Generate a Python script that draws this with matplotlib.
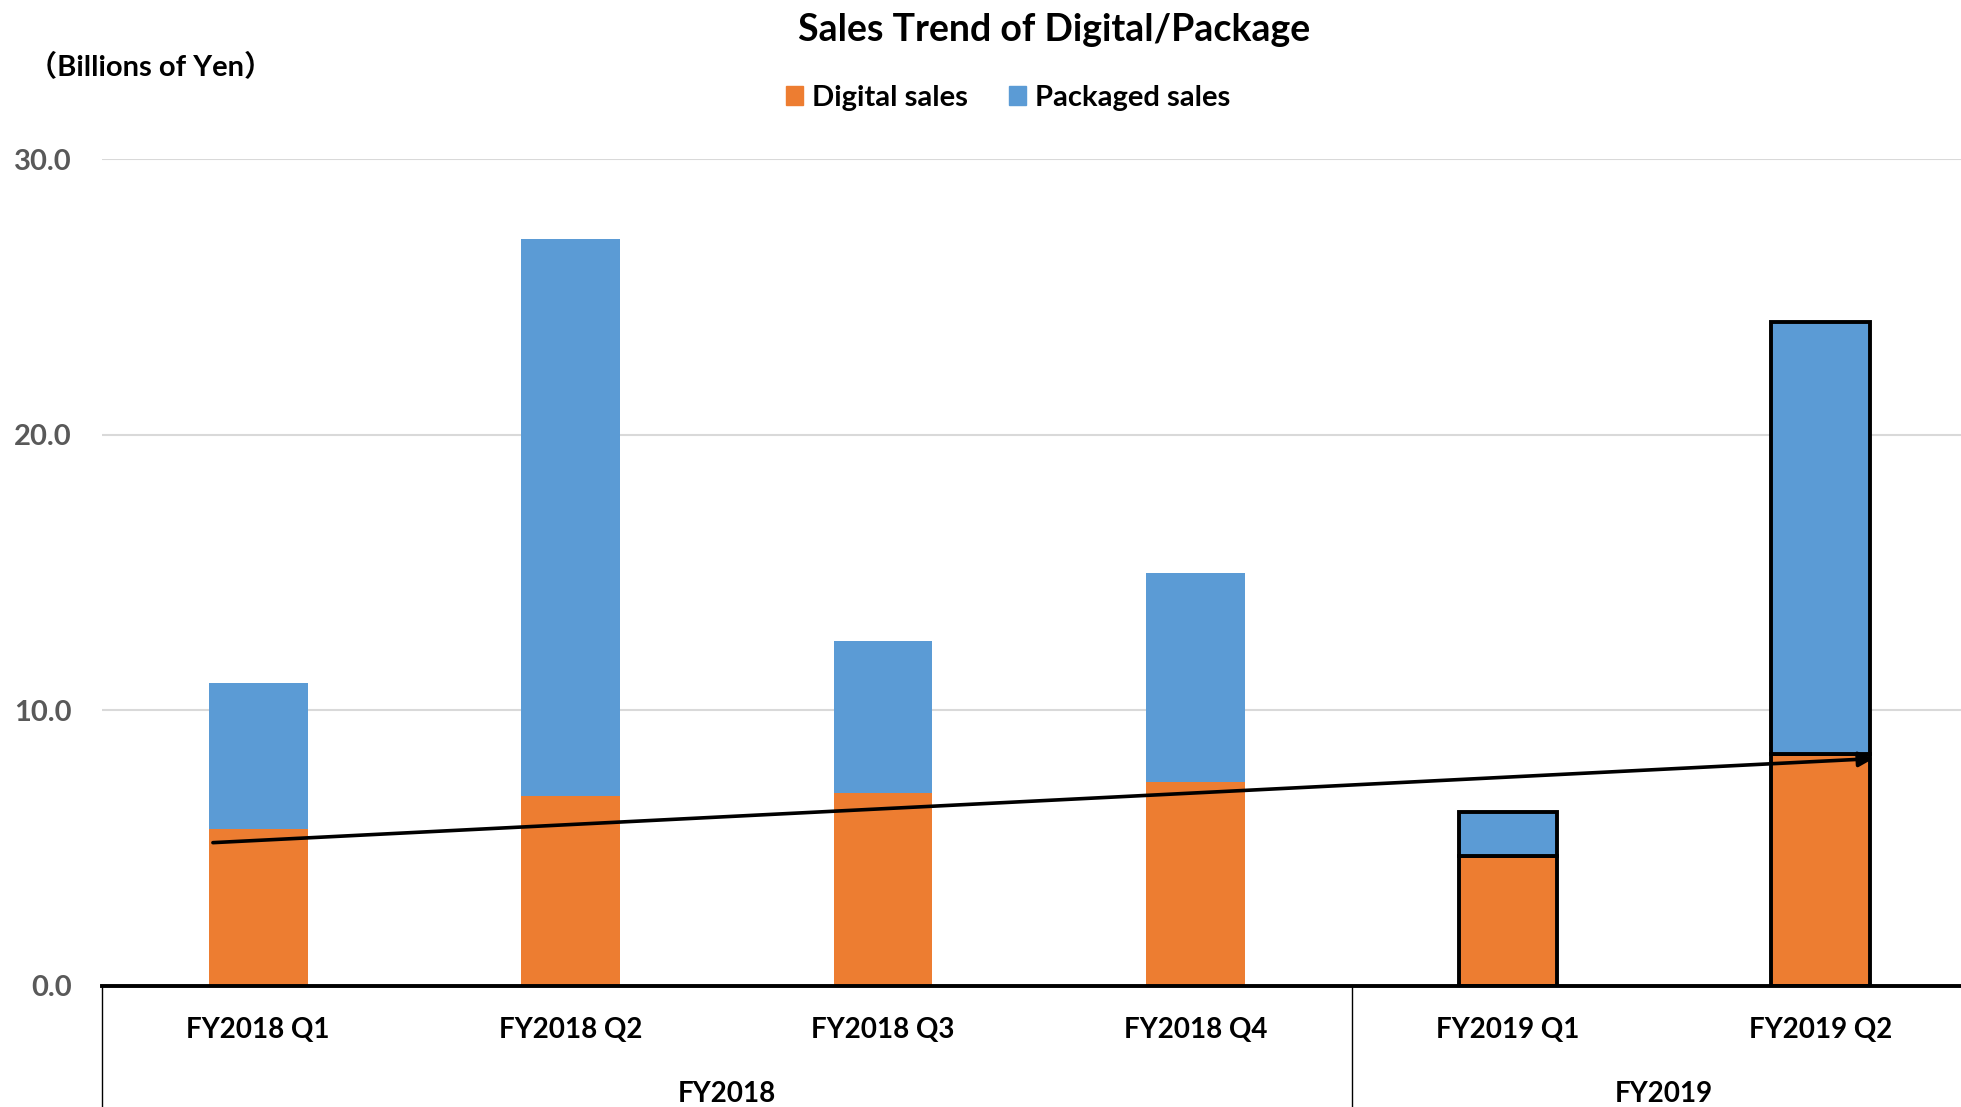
import matplotlib
matplotlib.use("Agg")
import matplotlib.pyplot as plt
import matplotlib.transforms as mtransforms
from matplotlib.patches import Patch

# values in billions of yen
quarters = ["FY2018 Q1", "FY2018 Q2", "FY2018 Q3", "FY2018 Q4", "FY2019 Q1", "FY2019 Q2"]
years = ["FY2018", "FY2019"]
year_sizes = [4, 2]
digital = [5.7, 6.9, 7.0, 7.4, 4.7, 8.4]
packaged = [5.3, 20.2, 5.5, 7.6, 1.6, 15.7]
trend_start = 5.2
trend_end = 8.25

ORANGE = "#ED7D31"
BLUE = "#5B9BD5"
FONT = ["Lato", "Noto Sans CJK JP", "DejaVu Sans"]
plt.rcParams["font.family"] = FONT

fig = plt.figure(figsize=(19.61, 11.07), dpi=100)
ax = fig.add_axes([102 / 1961, 121 / 1107, 1 - 102 / 1961, 827 / 1107])

x = list(range(len(quarters)))
width = 0.316
# FY2019 bars get a black outline
edges = ["none"] * 4 + ["black"] * 2
lws = [0] * 4 + [2.8] * 2
ax.bar(x, digital, width, color=ORANGE, edgecolor=edges, linewidth=lws, zorder=3)
ax.bar(x, packaged, width, bottom=digital, color=BLUE, edgecolor=edges, linewidth=lws, zorder=3)

# trend arrow on digital sales
ax.annotate("", xy=(5.17, trend_end), xytext=(-0.145, trend_start),
            arrowprops=dict(arrowstyle="-|>", color="black", lw=2.6,
                            mutation_scale=22, shrinkA=0, shrinkB=0),
            zorder=5)

ax.set_xlim(-0.5, 5.45)
ax.set_ylim(0, 30)
ax.set_yticks([0, 10, 20, 30])
ax.set_yticklabels([f"{v:.1f}" for v in [0, 10, 20, 30]],
                   fontsize=21, fontweight="bold", color="#595959")
ax.set_xticks(x)
ax.set_xticklabels(quarters, fontsize=20, fontweight="bold")
ax.tick_params(axis="both", length=0)
ax.tick_params(axis="x", pad=22)
ax.tick_params(axis="y", pad=22)
ax.grid(axis="y", color="#D9D9D9", linewidth=1.5, zorder=0)
ax.set_axisbelow(True)
for s in ["top", "left", "right"]:
    ax.spines[s].set_visible(False)
ax.spines["bottom"].set_linewidth(2.8)
ax.spines["bottom"].set_zorder(6)

# group labels and separators below the axis
trans = mtransforms.blended_transform_factory(ax.transData, ax.transAxes)
start = 0
for name, n in zip(years, year_sizes):
    ax.plot([start - 0.5, start - 0.5], [0, -0.17], transform=trans,
            color="black", lw=1.0, clip_on=False)
    ax.text(start + (n - 1) / 2, -0.131, name, transform=trans, ha="center", va="center",
            fontsize=20, fontweight="bold")
    start += n

fig.text(1054 / 1961, 1 - 30 / 1107, "Sales Trend of Digital/Package",
         ha="center", va="center", fontsize=27, fontweight="bold")
fig.text(28 / 1961, 1 - 67 / 1107, "（Billions of Yen）", ha="left", va="center",
         fontsize=21, fontweight="bold")

handles = [Patch(color=ORANGE, label="Digital sales"), Patch(color=BLUE, label="Packaged sales")]
fig.legend(handles=handles, loc="center", bbox_to_anchor=(1008 / 1961, 1 - 98 / 1107), ncol=2,
           frameon=False, prop={"size": 21, "weight": "bold"},
           handlelength=0.6, handleheight=0.6, handletextpad=0.3, columnspacing=1.4)

fig.savefig("out.png", dpi=100)
